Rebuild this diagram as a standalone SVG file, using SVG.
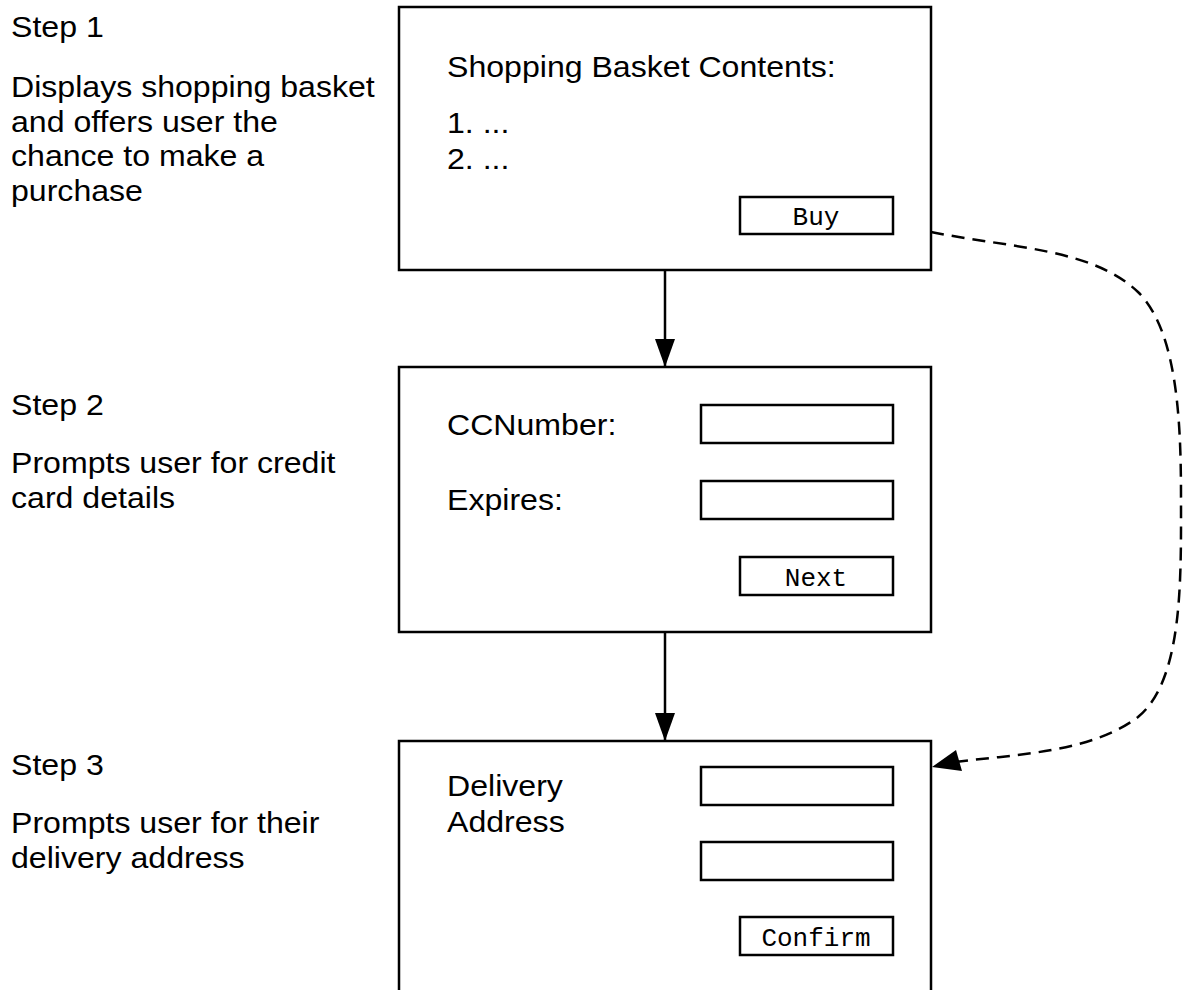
<svg xmlns="http://www.w3.org/2000/svg" width="1185" height="990" viewBox="0 0 1185 990">
<style>
.t{font-family:"Liberation Sans",Arial,Helvetica,sans-serif;font-size:30px;fill:#000}
.m{font-family:"Liberation Mono","Courier New",monospace;font-size:26px;fill:#000;text-anchor:middle}
.box{fill:#fff;stroke:#000;stroke-width:2.5}
.fld{fill:#fff;stroke:#000;stroke-width:2.5}
.ln{fill:none;stroke:#000;stroke-width:2.5}
.dash{fill:none;stroke:#000;stroke-width:2.5;stroke-dasharray:13 8}
</style>
<defs>
<marker id="ah" markerWidth="20" markerHeight="28" refX="10" refY="27" orient="0" markerUnits="userSpaceOnUse">
<path d="M0,0 L20,0 L10,28 Z" fill="#000"/>
</marker>
</defs>
<rect width="1185" height="990" fill="#fff"/>
<g id="labels">
<text class="t" transform="translate(11,37) scale(1.07,1)">Step 1</text>
<text class="t" transform="translate(11,97) scale(1.07,1)">Displays shopping basket</text>
<text class="t" transform="translate(11,131.5) scale(1.07,1)">and offers user the</text>
<text class="t" transform="translate(11,166) scale(1.07,1)">chance to make a</text>
<text class="t" transform="translate(11,200.5) scale(1.07,1)">purchase</text>
<text class="t" transform="translate(11,415) scale(1.07,1)">Step 2</text>
<text class="t" transform="translate(11,473) scale(1.07,1)">Prompts user for credit</text>
<text class="t" transform="translate(11,508) scale(1.07,1)">card details</text>
<text class="t" transform="translate(11,775) scale(1.07,1)">Step 3</text>
<text class="t" transform="translate(11,833) scale(1.07,1)">Prompts user for their</text>
<text class="t" transform="translate(11,868) scale(1.07,1)">delivery address</text>
</g>
<g id="connectors">
<line class="ln" x1="665" y1="270" x2="665" y2="366" marker-end="url(#ah)"/>
<line class="ln" x1="665" y1="632" x2="665" y2="740" marker-end="url(#ah)"/>
<path class="dash" d="M931,232 C1010,248 1092,248 1138,292 C1179,332 1181,430 1181,500 C1181,580 1183,680 1138,717 C1092,752 1020,754 955,762"/>
<path d="M932,767 L956,750 L962,771 Z" fill="#000"/>
</g>
<g id="step1">
<rect class="box" x="399" y="7" width="532" height="263"/>
<text class="t" transform="translate(447,77) scale(1.07,1)">Shopping Basket Contents:</text>
<text class="t" transform="translate(447,133) scale(1.07,1)">1. ...</text>
<text class="t" transform="translate(447,169) scale(1.07,1)">2. ...</text>
<rect class="fld" x="740" y="197" width="153" height="37"/>
<text class="m" x="816" y="225">Buy</text>
</g>
<g id="step2">
<rect class="box" x="399" y="367" width="532" height="265"/>
<text class="t" transform="translate(447,435) scale(1.07,1)">CCNumber:</text>
<text class="t" transform="translate(447,510) scale(1.07,1)">Expires:</text>
<rect class="fld" x="701" y="405" width="192" height="38"/>
<rect class="fld" x="701" y="481" width="192" height="38"/>
<rect class="fld" x="740" y="557" width="153" height="38"/>
<text class="m" x="816" y="586">Next</text>
</g>
<g id="step3">
<rect class="box" x="399" y="741" width="532" height="260"/>
<text class="t" transform="translate(447,796) scale(1.07,1)">Delivery</text>
<text class="t" transform="translate(447,832) scale(1.07,1)">Address</text>
<rect class="fld" x="701" y="767" width="192" height="38"/>
<rect class="fld" x="701" y="842" width="192" height="38"/>
<rect class="fld" x="740" y="917" width="153" height="38"/>
<text class="m" x="816" y="946">Confirm</text>
</g>
</svg>
